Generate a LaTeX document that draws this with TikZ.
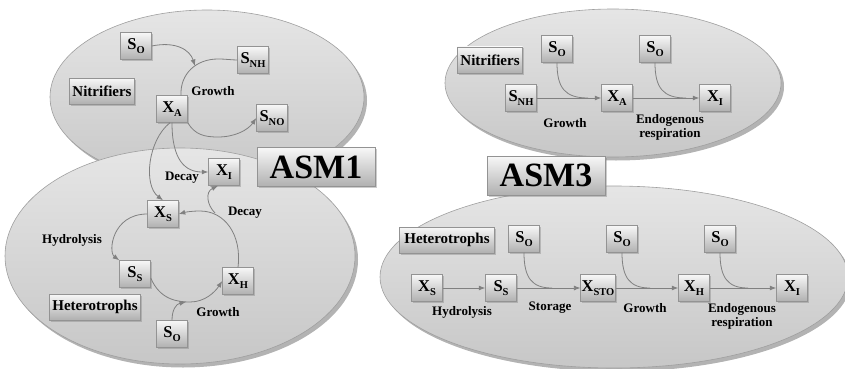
\documentclass[tikz,border=0pt]{standalone}
\usepackage{fontspec}
\setmainfont{Liberation Serif}
\usetikzlibrary{shapes.geometric,shadows,arrows.meta}
\newcommand\vsub[1]{\raisebox{-4.5pt}{\fontsize{10.5}{10.5}\selectfont #1}}
\newcommand\var[2]{{\fontsize{16.5}{17}\selectfont #1}\vsub{#2}}
\begin{document}
\begin{tikzpicture}[x=1pt,y=-1pt,
 ell/.style={ellipse, draw=gray!75, line width=0.6pt, top color=gray!20, bottom color=gray!44, inner sep=0pt,
   drop shadow={shadow xshift=3pt, shadow yshift=-3.5pt, opacity=0.6}},
 box/.style={draw=gray!85, line width=0.5pt, top color=gray!6, bottom color=gray!62, inner sep=1pt,
   minimum width=31pt, minimum height=27pt, font=\bfseries,
   drop shadow={shadow xshift=1.5pt, shadow yshift=-1.5pt, opacity=0.4}},
 tbox/.style={box, font=\bfseries\fontsize{15}{16}\selectfont, minimum height=26pt, inner xsep=3pt},
 big/.style={box, font=\bfseries\fontsize{34}{36}\selectfont, minimum width=118pt, minimum height=39pt},
 lab/.style={font=\bfseries\fontsize{13}{14}\selectfont, align=center},
 ln/.style={draw=gray, line width=0.8pt},
 arr/.style={ln, -{Latex[length=6.5pt,width=5pt]}, color=gray}]
\useasboundingbox (0,0) rectangle (845,369);
% ellipses
\node[ell, minimum width=314pt, minimum height=174pt] (e1) at (207,97) {};
\node[ell, minimum width=350pt, minimum height=216pt] (e2) at (180,256) {};
\node[ell, minimum width=336pt, minimum height=148pt] (e3) at (613,83) {};
\node[ell, minimum width=468pt, minimum height=182pt] (e4) at (614,277) {};
% titles
\node[big] (asm1) at (316,167) {ASM1};
\node[big] (asm3) at (546,175.5) {ASM3};
% ASM1 nodes
\node[tbox] (nit1) at (102,91) {Nitrifiers};
\node[box] (so1) at (136,46) {\var{S}{O}};
\node[box] (snh1) at (253,60) {\var{S}{NH}};
\node[box] (xa1) at (172,109) {\var{X}{A}};
\node[box] (sno1) at (272,118) {\var{S}{NO}};
\node[box] (xi1) at (224,172) {\var{X}{I}};
\node[box] (xs1) at (163,214) {\var{X}{S}};
\node[box] (ss1) at (135,274) {\var{S}{S}};
\node[box] (xh1) at (238,281) {\var{X}{H}};
\node[tbox] (het1) at (95,307) {Heterotrophs};
\node[box] (so2) at (172,334) {\var{S}{O}};
% ASM1 connectors
\coordinate (g1) at (195,66);
\draw[arr] (so1.east) .. controls (176,41) and (190,50) .. (g1);
\draw[ln] ([xshift=9pt]xa1.north) .. controls (180,74) and (196,59) .. (218,59) .. controls (226,59) and (232,60) .. (snh1.west);
\draw[arr] (xa1.south east) .. controls (195,135) and (205,137) .. (218,137) .. controls (235,137) and (248,130) .. (sno1.west);
\draw[arr] (xa1.south) .. controls (172,160) and (185,172) .. (xi1.west);
\draw[arr] ([xshift=-2pt]xa1.south) .. controls (148,140) and (143,185) .. (xs1.north);
\draw[arr] (xs1.west) .. controls (112,214) and (108,252) .. (ss1.north west);
\draw[arr] ([yshift=-4pt]ss1.east) .. controls (160,300) and (178,302) .. (190,302) .. controls (205,302) and (215,292) .. (xh1.west);
\coordinate (g2) at (186,302);
\draw[arr] (so2.north) .. controls (172,310) and (176,304) .. (g2);
\draw[arr] (xh1.north) .. controls (242,235) and (225,211) .. (200,211) .. controls (192,211) and (186,212) .. (xs1.east);
\coordinate (d2) at (215,213);
\draw[arr] (d2) .. controls (207,205) and (205,192) .. ([xshift=-6pt]xi1.south);
% ASM1 labels
\node[lab] (l1) at (213,91) {Growth};
\node[lab] (l2) at (182,178) {Decay};
\node[lab] (l3) at (245,213) {Decay};
\node[lab] (l4) at (72,240) {Hydrolysis};
\node[lab] (l5) at (218,312) {Growth};
% ASM3 top
\node[tbox] (nit3) at (490,60) {Nitrifiers};
\node[box] (so3a) at (557,49) {\var{S}{O}};
\node[box] (so3b) at (655,49) {\var{S}{O}};
\node[box] (snh3) at (521,98) {\var{S}{NH}};
\node[box] (xa3) at (617,98) {\var{X}{A}};
\node[box] (xi3) at (715,98) {\var{X}{I}};
\draw[arr] (snh3) -- (xa3);
\draw[arr] (xa3) -- (xi3);
\coordinate (m1) at (588,98);
\coordinate (m2) at (686,98);
\draw[ln] (so3a.south) .. controls (557,88) and (565,98) .. (m1);
\draw[ln] (so3b.south) .. controls (655,88) and (663,98) .. (m2);
\node[lab] (l6) at (565,123) {Growth};
\node[lab] (l7) at (670,127) {Endogenous\\respiration};
% ASM3 bottom
\node[tbox, inner xsep=5pt] (het3) at (447,240) {Heterotrophs};
\node[box] (so4a) at (524,239) {\var{S}{O}};
\node[box] (so4b) at (622,239) {\var{S}{O}};
\node[box] (so4c) at (720,239) {\var{S}{O}};
\node[box] (xs4) at (427,288) {\var{X}{S}};
\node[box] (ss4) at (501,288) {\var{S}{S}};
\node[box] (xsto4) at (598,288) {\var{X}{STO}};
\node[box] (xh4) at (694,288) {\var{X}{H}};
\node[box] (xi4) at (792,288) {\var{X}{I}};
\draw[arr] (xs4) -- (ss4);
\draw[arr] (ss4) -- (xsto4);
\draw[arr] (xsto4) -- (xh4);
\draw[arr] (xh4) -- (xi4);
\coordinate (n1) at (552,288);
\coordinate (n2) at (650,288);
\coordinate (n3) at (748,288);
\draw[ln] (so4a.south) .. controls (524,278) and (532,288) .. (n1);
\draw[ln] (so4b.south) .. controls (622,278) and (630,288) .. (n2);
\draw[ln] (so4c.south) .. controls (720,278) and (728,288) .. (n3);
\node[lab] (l8) at (462,312) {Hydrolysis};
\node[lab] (l9) at (550,308) {Storage};
\node[lab] (l10) at (645,308) {Growth};
\node[lab] (l11) at (742,316) {Endogenous\\respiration};
\end{tikzpicture}
\end{document}
